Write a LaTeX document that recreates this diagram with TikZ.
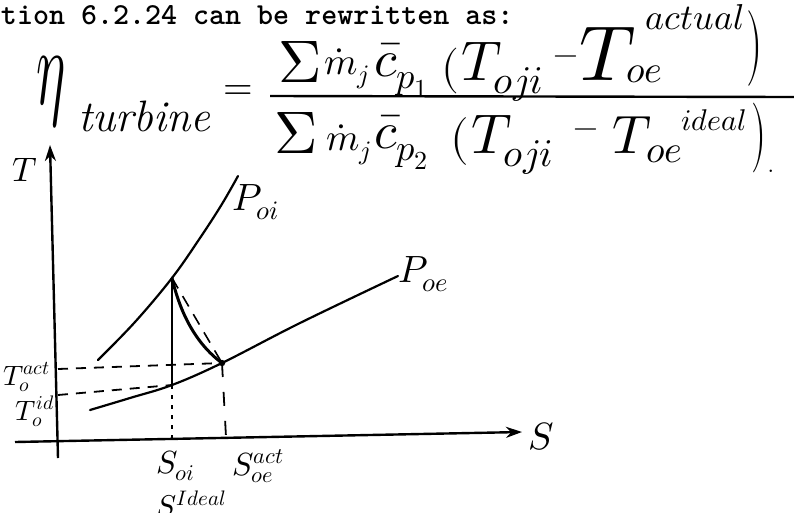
\documentclass[tikz,border=0pt]{standalone}
\usepackage{graphicx}
\usepackage{unicode-math}
\usetikzlibrary{arrows.meta}
\begin{document}
\begin{tikzpicture}[x=1pt,y=-1pt,
  curve/.style={line width=2.2pt, line cap=round},
  axisline/.style={line width=2.4pt, -{Stealth[length=16pt,width=11pt]}},
  dsh/.style={line width=1.8pt, dash pattern=on 10pt off 8pt},
  fdsh/.style={line width=1.4pt, dash pattern=on 4pt off 6pt},
  fs/.style={font=\fontsize{#1}{#1}\selectfont},
  lbl/.style={inner sep=0pt, outer sep=0pt}]
\useasboundingbox (0,0) rectangle (794,512);

% heading text
\node[lbl, anchor=base west, font=\ttfamily\bfseries\fontsize{30.5}{30.5}\selectfont] (hdr) at (1,24) {tion 6.2.24 can be rewritten as:};

% left side of equation
\node[lbl, anchor=base west, fs=110] (eta) at (36,104) {\scalebox{0.5}[1]{$\eta$}};
\node[lbl, anchor=base west, fs=44] (turb) at (78,131) {\itshape turbine};
\node[lbl, fs=38] (eq) at (238,93) {$=$};
\draw[line width=2.4pt] (270,96) -- (794,97);

% numerator
\node[lbl, anchor=base west, fs=60] (ns) at (278,82) {$\Sigma$};
\node[lbl, anchor=base west, fs=38] (nm) at (324,74) {$\dot m_j$};
\node[lbl, anchor=base west, fs=52] (nc) at (374,76) {$\bar c_{p_1}$};
\node[lbl, anchor=base west, fs=46] (nl) at (441,82) {$($};
\node[lbl, anchor=base west, fs=56] (nt) at (461,80) {$T_{oji}$};
\node[lbl, fs=32] (nmin) at (566,60) {$-$};
\node[lbl, anchor=base west, fs=78] (nt2) at (579,80) {$T$};
\node[lbl, anchor=base west, fs=38] (noe) at (626,82) {$oe$};
\node[lbl, anchor=base west, fs=36] (nact) at (645,29) {$actual$};
\node[lbl, fs=76] (nr) at (755,48) {\scalebox{0.55}[1]{$)$}};

% denominator
\node[lbl, anchor=base west, fs=60] (ds) at (274,153) {$\Sigma$};
\node[lbl, anchor=base west, fs=38] (dm) at (326,150) {$\dot m_j$};
\node[lbl, anchor=base west, fs=52] (dc) at (374,148) {$\bar c_{p_2}$};
\node[lbl, anchor=base west, fs=48] (dl) at (450,153) {$($};
\node[lbl, anchor=base west, fs=56] (dt) at (471,153) {$T_{oji}$};
\node[lbl, fs=32] (dmin) at (586,133) {$-$};
\node[lbl, anchor=base west, fs=54] (dt2) at (612,153) {$T$};
\node[lbl, anchor=base west, fs=38] (doe) at (646,162) {$oe$};
\node[lbl, anchor=base west, fs=30] (dideal) at (681,130) {$ideal$};
\node[lbl, fs=70] (dr) at (759,138) {\scalebox{0.55}[1]{$)$}};
\node[lbl, anchor=base west, fs=30] (dot) at (767,172) {.};

% axes
\coordinate (tbot) at (58,458);
\coordinate (ttop) at (50,145);
\coordinate (sleft) at (15,442);
\coordinate (sright) at (522,432);
\draw[axisline] (tbot) -- (ttop);
\draw[axisline] (sleft) -- (sright);
\node[lbl, fs=34] (tlab) at (25,170) {$T$};
\node[lbl, anchor=west, fs=38] (slab) at (528,437) {$S$};

% states
\coordinate (A) at (172,278);
\coordinate (B) at (172,385);
\coordinate (C) at (222,363);
\coordinate (Ab) at (172,442);
\coordinate (Cb) at (226,437);
\coordinate (Ay) at (58,395);
\coordinate (Cy) at (58,369);

% pressure curves
\draw[curve] plot[smooth, tension=0.6] coordinates {(98,360) (135,322) (172,278) (200,238) (222,204) (238,176)};
\node[lbl, anchor=base west, fs=38] (poi) at (232,210) {$P_{oi}$};
\draw[curve] plot[smooth, tension=0.6] coordinates {(90,410) (130,398) (172,385) (222,363) (300,323) (398,276)};
\node[lbl, anchor=base west, fs=38] (poe) at (398,282) {$P_{oe}$};

% process lines
\draw[line width=1.6pt] (A) -- (B);
\draw[line width=3pt, line cap=round] (A) .. controls (180,312) and (195,343) .. (C);
\draw[line width=1.6pt, dash pattern=on 12pt off 9pt] (A) -- (C);
\fill (C) circle (3.2pt);
\draw[dsh] (Cy) -- (C);
\draw[dsh] (Ay) -- (B);
\draw[fdsh] (B) -- (Ab);
\draw[line width=1.8pt, dash pattern=on 14pt off 15pt] (C) -- (Cb);

% axis labels
\node[lbl, anchor=base west, fs=28] (tact) at (3,385) {$T_o^{act}$};
\node[lbl, anchor=base west, fs=28] (tid) at (16,420) {$T_o^{id}$};
\node[lbl, anchor=base west, fs=32] (soi) at (156,473) {$S_{oi}$};
\node[lbl, anchor=base west, fs=32] (soe) at (232,475) {$S_{oe}^{act}$};
\node[lbl, anchor=base west, fs=30] (sid) at (156,516) {$S_o^{Ideal}$};
\end{tikzpicture}
\end{document}
